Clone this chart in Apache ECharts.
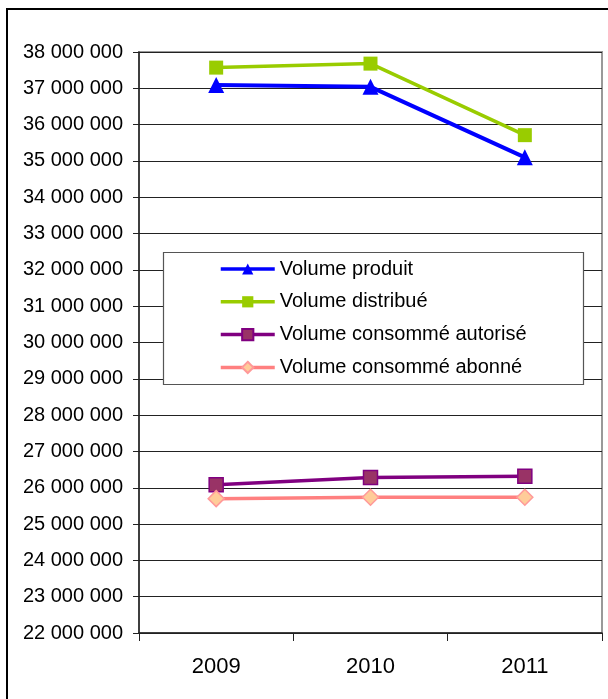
<!DOCTYPE html>
<html>
<head>
<meta charset="utf-8">
<script src="https://cdn.jsdelivr.net/npm/echarts@6/dist/echarts.min.js"></script>
<style>
html,body{margin:0;padding:0;background:#fff;}
#chart{width:608px;height:699px;}
</style>
</head>
<body>
<div id="chart"></div>
<script>
const categories = ['2009', '2010', '2011'];
const seriesNames = ['Volume produit', 'Volume distribué', 'Volume consommé autorisé', 'Volume consommé abonné'];
const volumeProduit = [37090000, 37040000, 35100000];
const volumeDistribue = [37570000, 37680000, 35710000];
const volumeAutorise = [26080000, 26280000, 26320000];
const volumeAbonne = [25700000, 25740000, 25740000];
const yMin = 22000000, yMax = 38000000, yStep = 1000000;

const FONT = 'Liberation Sans, Arial, sans-serif';
const chart = echarts.init(document.getElementById('chart'), null, {renderer: 'canvas'});
function fmt(v){ return String(v).replace(/\B(?=(\d{3})+(?!\d))/g, ' '); }

chart.setOption({
  animation: false,
  backgroundColor: '#fff',
  textStyle: {fontFamily: FONT},
  grid: {left: 139, top: 52, right: 6, bottom: 66, show: true, borderColor: '#999', borderWidth: 2, containLabel: false},
  graphic: [
    {type: 'rect', z: 10, shape: {x: 7, y: 9, width: 700, height: 800}, style: {fill: 'none', stroke: '#000', lineWidth: 2}},
    {type: 'rect', z: 3, shape: {x: 163.5, y: 252.5, width: 420, height: 132}, style: {fill: '#fff', stroke: '#555', lineWidth: 1.2}}
  ],
  legend: {
    z: 5,
    orient: 'vertical',
    left: 219, top: 259,
    padding: 0,
    itemWidth: 54, itemHeight: 14,
    itemGap: 12.8,
    itemTextGap: 6,
    lineStyle: {width: 3.5},
    textStyle: {fontSize: 20, color: '#000', fontFamily: FONT},
    data: seriesNames
  },
  xAxis: {
    type: 'category',
    data: categories,
    boundaryGap: true,
    axisLine: {lineStyle: {color: '#222', width: 1.5}},
    axisTick: {show: true, length: 8, lineStyle: {color: '#222'}},
    axisLabel: {fontSize: 22, color: '#000', margin: 23, fontFamily: FONT},
    splitLine: {show: false}
  },
  yAxis: {
    type: 'value',
    min: yMin, max: yMax, interval: yStep,
    axisLine: {show: true, lineStyle: {color: '#222', width: 1.5}},
    axisTick: {show: true, length: 6, lineStyle: {color: '#222'}},
    axisLabel: {fontSize: 20, color: '#000', margin: 16, fontFamily: FONT, formatter: fmt},
    splitLine: {show: true, lineStyle: {color: '#222', width: 1}}
  },
  series: [
    {name: seriesNames[0], type: 'line', data: volumeProduit, symbol: 'triangle', symbolSize: 16,
     lineStyle: {color: '#0000FF', width: 4}, itemStyle: {color: '#0000FF'}},
    {name: seriesNames[1], type: 'line', data: volumeDistribue, symbol: 'rect', symbolSize: 14,
     lineStyle: {color: '#99CC00', width: 3.5}, itemStyle: {color: '#99CC00'}},
    {name: seriesNames[2], type: 'line', data: volumeAutorise, symbol: 'rect', symbolSize: 14,
     lineStyle: {color: '#800080', width: 3.5}, itemStyle: {color: '#993366', borderColor: '#800080', borderWidth: 1.5}},
    {name: seriesNames[3], type: 'line', data: volumeAbonne, symbol: 'diamond', symbolSize: 16,
     lineStyle: {color: '#FF8080', width: 3.5}, itemStyle: {color: '#FFCC99', borderColor: '#FF9999', borderWidth: 1.5}}
  ]
});
</script>
</body>
</html>
